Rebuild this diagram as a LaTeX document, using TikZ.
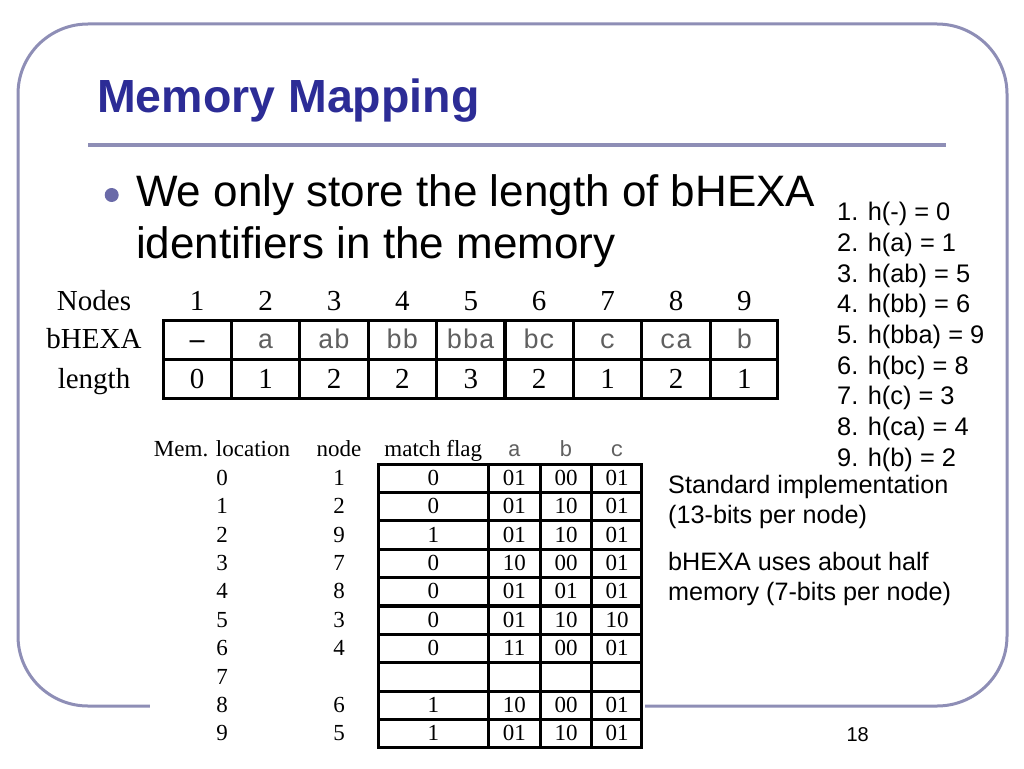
\documentclass[tikz,border=0pt]{standalone}
\usepackage{fontspec}
\setmainfont{Liberation Sans}
\newfontfamily\tabserif{Liberation Serif}
\newfontfamily\tabmono{Liberation Mono}
\usetikzlibrary{matrix,
positioning}

\definecolor{titleblue}{RGB}{44,44,150}
\definecolor{framegray}{RGB}{142,142,182}
\definecolor{bulletblue}{RGB}{106,106,168}
\definecolor{strgray}{RGB}{95,95,95}

\newcommand\mmtitlefont{\bfseries\fontsize{46.5}{50}\selectfont}
\newcommand\mmbodyfont{\fontsize{44}{51.5}\selectfont}
\newcommand\mmlistfont{\fontsize{25.4}{30.7}\selectfont}
\newcommand\mmnotefont{\fontsize{25.2}{30}\selectfont}
\newcommand\hexanum{\tabserif\fontsize{29}{29}\selectfont}
\newcommand\hexastr{\tabmono\fontsize{27}{27}\selectfont}
\newcommand\memnum{\tabserif\fontsize{23}{23}\selectfont}
\newcommand\memstr{\tabmono\fontsize{22}{22}\selectfont}

\begin{document}
\begin{tikzpicture} [x=1pt,
    y=-1pt,
    frame line/.style={draw=framegray, line width=3},
    rule line/.style={draw=framegray, line width=4},
    title text/.style={font=\mmtitlefont, text=titleblue, inner sep=0pt},
    body text/.style={font=\mmbodyfont, align=left, inner sep=0pt},
    list text/.style={font=\mmlistfont, align=left, inner sep=0pt},
    note text/.style={font=\mmnotefont, align=left, inner sep=0pt},
    cell/.style={draw, line width=1.6, outer sep=0pt, inner sep=0pt},
    outer line/.style={draw, line width=3},
    memstr/.style={font=\memstr, text=strgray}
  ]

  \useasboundingbox (0,0) rectangle (1024,768);

  \draw [frame line, rounded corners=70] (18,24) rectangle (1007,706);
  \fill [white] (150,428) rectangle (645,745);

  \node [title text, anchor=base west] (title) at (97,112) {Memory Mapping};
  \draw [rule line] (88,145) -- (946,145);

  \node [circle, fill=bulletblue, minimum size=14, inner sep=0pt] (dot) at (111.7,195) {};
  \node [body text, anchor=north west] (claim) at (136,174.6)
  {We only store the length of bHEXA\\identifiers in the memory};

  \node [list text, anchor=north west] (hashes) at (837,202)
  {1. h(-) = 0\\2. h(a) = 1\\3. h(ab) = 5\\4. h(bb) = 6\\5. h(bba) = 9\\
    6. h(bc) = 8\\7. h(c) = 3\\8. h(ca) = 4\\9. h(b) = 2};

  \node [note text, anchor=north west] (std) at (668,475.5)
  {Standard implementation\\(13-bits per node)};
  \node [note text,
    below = 23pt of std.south west,
    anchor=north west
  ] (half) {bHEXA uses about half\\memory (7-bits per node)};

  \node [anchor=base, font=\fontsize{20}{20}\selectfont] (pageno) at (857.7,741.7) {18};

  %%%%%%%%%%%%%%%%%%%%%%%%%%%%%%

  \matrix (hexa) [matrix of nodes,
    nodes in empty cells,
    anchor=north west,
    inner sep=0pt,
    outer sep=0pt,
    at={(25,282)},
    nodes={cell, minimum width=66.8, minimum height=38,
      text height=20, text depth=2, font=\hexanum},
    column 1/.style={nodes={draw=none, minimum width=138}},
    row 1/.style={nodes={draw=none}},
    row 2/.style={nodes={font=\hexastr, text=strgray}},
    row 2 column 1/.style={nodes={font=\hexanum, text=black}},
    row 2 column 2/.style={nodes={font=\hexanum\bfseries, text=black}}
  ] {
    Nodes  & 1 & 2 & 3 & 4 & 5 & 6 & 7 & 8 & 9 \\
    bHEXA  & – & a & ab & bb & bba & bc & c & ca & b \\
    length & 0 & 1 & 2 & 2 & 3 & 2 & 1 & 2 & 1 \\
  };
  \draw [outer line] (hexa-2-2.north west) rectangle (hexa-3-10.south east);

  \matrix (mem) [matrix of nodes,
    nodes in empty cells,
    anchor=north west,
    inner sep=0pt,
    outer sep=0pt,
    at={(144,434)},
    nodes={cell, minimum height=26.8, text height=16, text depth=2, font=\memnum},
    column 1/.style={nodes={draw=none, minimum width=156}},
    column 2/.style={nodes={draw=none, minimum width=78}},
    column 3/.style={nodes={minimum width=109}},
    column 4/.style={nodes={minimum width=50}},
    column 5/.style={nodes={minimum width=50}},
    column 6/.style={nodes={minimum width=49}},
    row 1/.style={nodes={draw=none, minimum height=30}}
  ] {
    Mem. location & node & match flag & |[memstr]| a & |[memstr]| b & |[memstr]| c \\
    0 & 1 & 0 & 01 & 00 & 01 \\
    1 & 2 & 0 & 01 & 10 & 01 \\
    2 & 9 & 1 & 01 & 10 & 01 \\
    3 & 7 & 0 & 10 & 00 & 01 \\
    4 & 8 & 0 & 01 & 01 & 01 \\
    5 & 3 & 0 & 01 & 10 & 10 \\
    6 & 4 & 0 & 11 & 00 & 01 \\
    7 &   &   &    &    &    \\
    8 & 6 & 1 & 10 & 00 & 01 \\
    9 & 5 & 1 & 01 & 10 & 01 \\
  };
  \draw [outer line] (mem-2-3.north west) rectangle (mem-11-6.south east);

\end{tikzpicture}
\end{document}
